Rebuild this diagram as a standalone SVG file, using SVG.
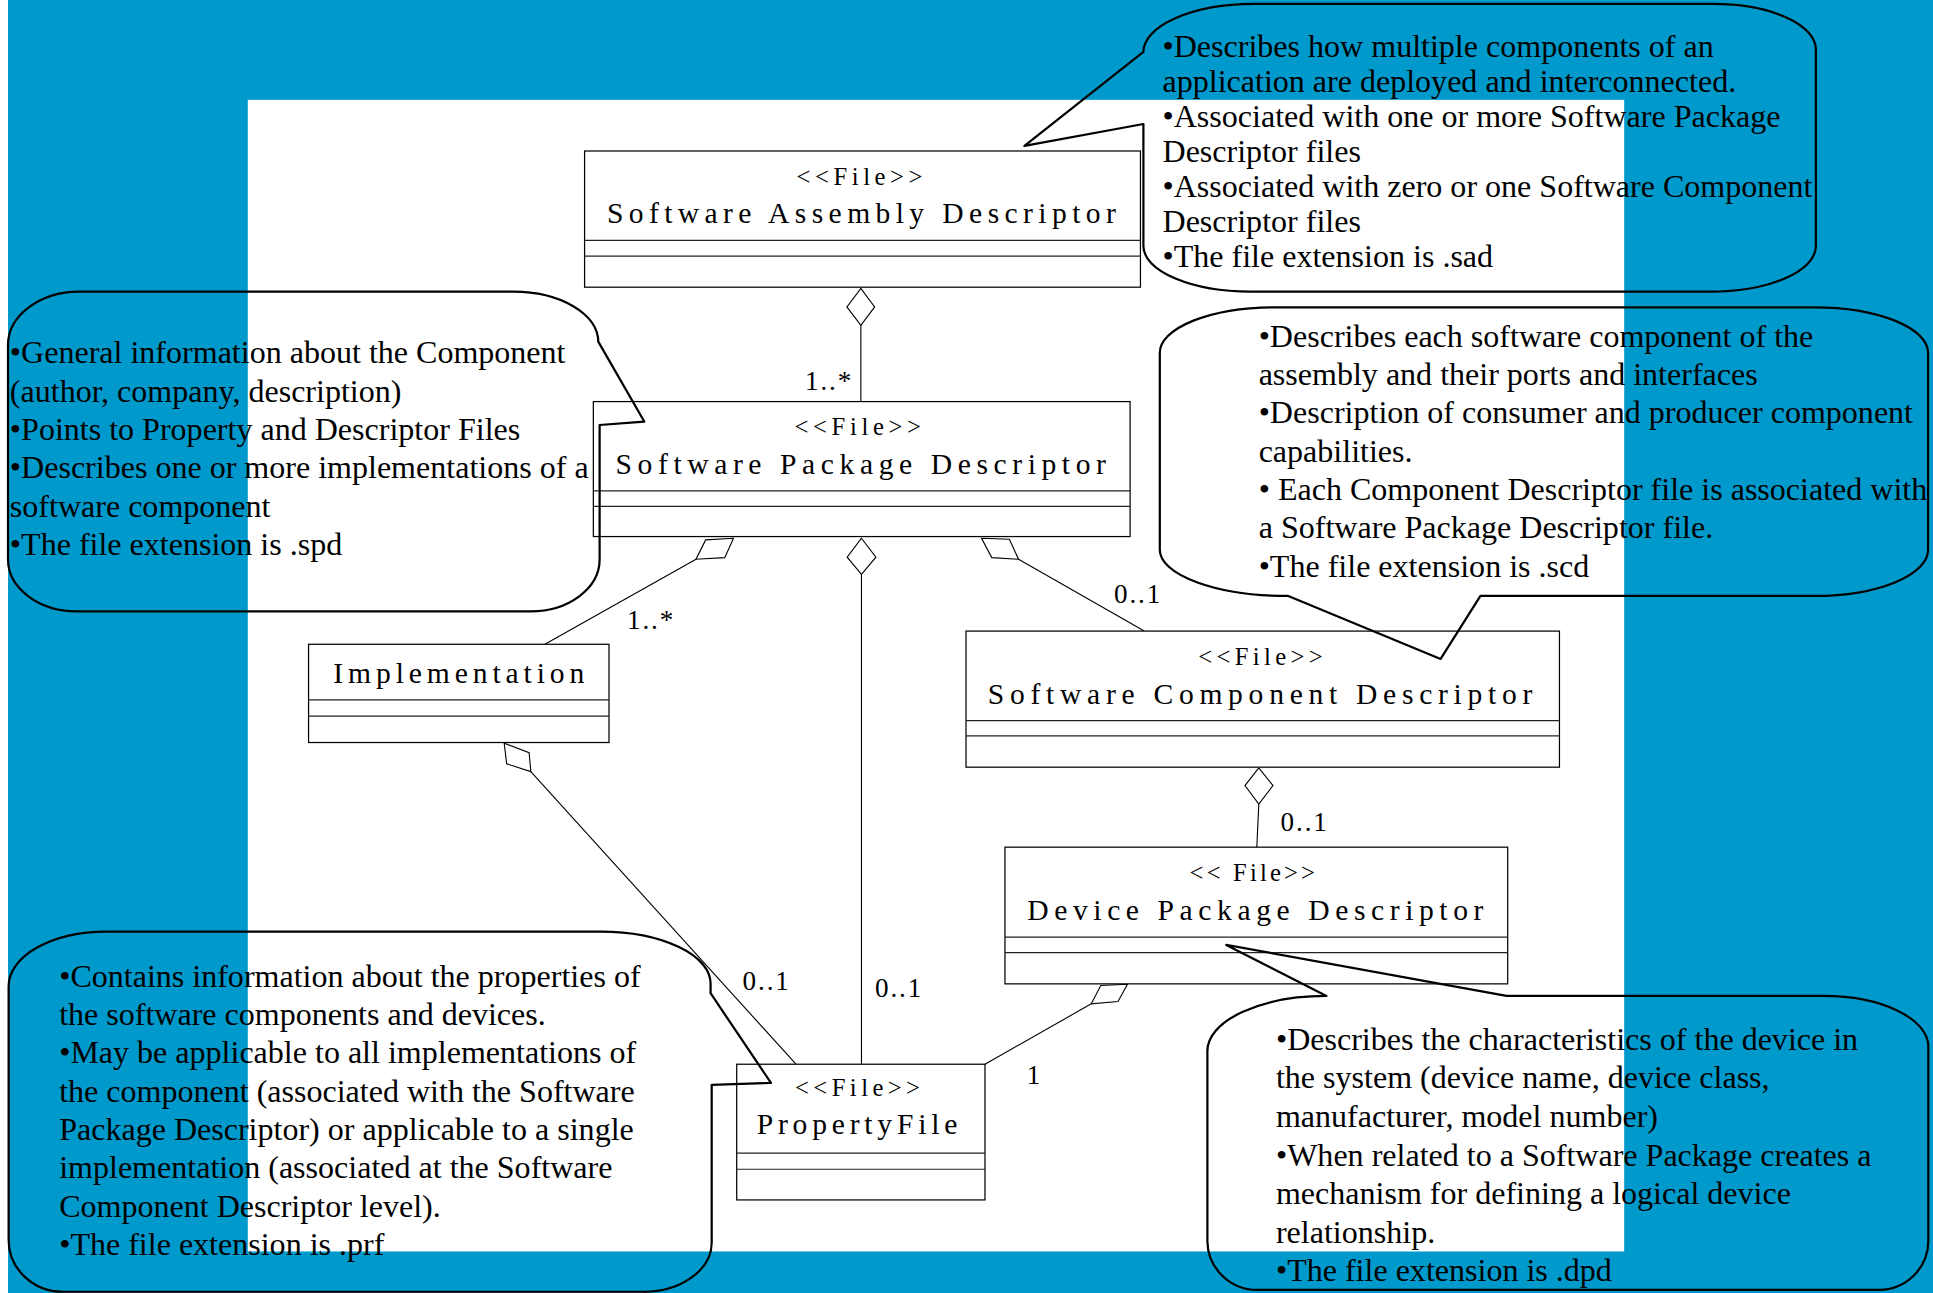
<svg xmlns="http://www.w3.org/2000/svg" width="1933" height="1293" viewBox="0 0 1933 1293">
<defs>
<style>
.box{fill:#fff;stroke:#000;stroke-width:1}
.sep{stroke:#222;stroke-width:1}
.ster{font-family:"Liberation Serif","Times New Roman",serif;font-size:20px;fill:#000}
.name{font-family:"Liberation Serif","Times New Roman",serif;font-size:24px;fill:#000}
.conn{fill:none;stroke:#000;stroke-width:0.9}
.dia{fill:#fff;stroke:#000;stroke-width:0.9}
.mult{font-family:"Liberation Serif","Times New Roman",serif;font-size:22px;fill:#000;letter-spacing:1.5px}
.call{fill:none;stroke:#000;stroke-width:1.8;stroke-linejoin:round}
.note{font-family:"Liberation Serif","Times New Roman",serif;font-size:26px;fill:#000}
</style>
</defs>
<rect x="0" y="0" width="1933" height="1293" fill="#0099cc"/>
<g transform="scale(1.23278 1.2326)">
<rect x="0" y="0" width="6.5" height="1049" fill="#fff"/>
<rect x="201" y="81" width="1116.5" height="934.3" fill="#fff"/>

<g id="connectors">
<polygon class="dia" points="698.3,234 709.5,249 698.3,264 687,249"/>
<line class="conn" x1="698.3" y1="264" x2="698.3" y2="325.8"/>
<text class="mult" x="653" y="316.4">1..*</text>

<polygon class="dia" points="595,436.7 587.9,452.4 564.6,453.7 572.4,438"/>
<line class="conn" x1="564.6" y1="453.7" x2="442" y2="522.7"/>
<text class="mult" x="508.6" y="510.5">1..*</text>

<polygon class="dia" points="698.8,436.7 710.5,452 698.8,466 687.2,452"/>
<line class="conn" x1="698.8" y1="466" x2="698.8" y2="863.4"/>
<text class="mult" x="709.8" y="809">0..1</text>

<polygon class="dia" points="796.2,436.7 818.8,437.5 826.2,453.7 804.5,452.4"/>
<line class="conn" x1="826.2" y1="453.7" x2="928.2" y2="512"/>
<text class="mult" x="903.7" y="489.4">0..1</text>

<polygon class="dia" points="1021.1,623 1032.6,637.3 1021.1,652.4 1009.9,637.3"/>
<line class="conn" x1="1021.1" y1="652.4" x2="1019.5" y2="687.3"/>
<text class="mult" x="1038.8" y="673.8">0..1</text>

<polygon class="dia" points="914.6,798.5 906.9,812.5 885.2,814.4 892.9,799.5"/>
<line class="conn" x1="885.2" y1="814.4" x2="799" y2="863.4"/>
<text class="mult" x="832.8" y="879.4">1</text>

<polygon class="dia" points="409,603 429.2,610.6 430.6,626 411,619.7"/>
<line class="conn" x1="430.6" y1="626" x2="645.7" y2="863.4"/>
<text class="mult" x="602.4" y="803.5">0..1</text>
</g>

<g id="sad">
<rect class="box" x="474.2" y="122.5" width="450.9" height="110.5"/>
<line class="sep" x1="474.2" y1="195" x2="925.1" y2="195"/>
<line class="sep" x1="474.2" y1="207.7" x2="925.1" y2="207.7"/>
<text class="ster" x="646.2" y="150" textLength="102" lengthAdjust="spacing">&lt;&lt;File&gt;&gt;</text>
<text class="name" x="492.3" y="181.2" textLength="412.8" lengthAdjust="spacing">Software Assembly Descriptor</text>
</g>

<g id="spd">
<rect class="box" x="481.3" y="325.8" width="435.4" height="109.5"/>
<line class="sep" x1="481.3" y1="398.3" x2="916.7" y2="398.3"/>
<line class="sep" x1="481.3" y1="410.8" x2="916.7" y2="410.8"/>
<text class="ster" x="644.5" y="352.9" textLength="102.5" lengthAdjust="spacing">&lt;&lt;File&gt;&gt;</text>
<text class="name" x="499.3" y="384.5" textLength="397.8" lengthAdjust="spacing">Software Package Descriptor</text>
</g>

<g id="implementation">
<rect class="box" x="250.3" y="522.7" width="243.7" height="79.7"/>
<line class="sep" x1="250.3" y1="567.8" x2="494" y2="567.8"/>
<line class="sep" x1="250.3" y1="581" x2="494" y2="581"/>
<text class="name" x="270.4" y="554.3" textLength="203.6" lengthAdjust="spacing">Implementation</text>
</g>

<g id="scd">
<rect class="box" x="783.6" y="512" width="481.4" height="110.4"/>
<line class="sep" x1="783.6" y1="584.6" x2="1265" y2="584.6"/>
<line class="sep" x1="783.6" y1="597" x2="1265" y2="597"/>
<text class="ster" x="972" y="539.3" textLength="101" lengthAdjust="spacing">&lt;&lt;File&gt;&gt;</text>
<text class="name" x="801.3" y="570.8" textLength="441.7" lengthAdjust="spacing">Software Component Descriptor</text>
</g>

<g id="dpd">
<rect class="box" x="815.2" y="687.3" width="407.8" height="110.9"/>
<line class="sep" x1="815.2" y1="760.3" x2="1223" y2="760.3"/>
<line class="sep" x1="815.2" y1="772.8" x2="1223" y2="772.8"/>
<text class="ster" x="965" y="714.5" textLength="101.7" lengthAdjust="spacing">&lt;&lt; File&gt;&gt;</text>
<text class="name" x="833.3" y="746" textLength="370" lengthAdjust="spacing">Device Package Descriptor</text>
</g>

<g id="propertyfile">
<rect class="box" x="597.6" y="863.4" width="201.4" height="110.1"/>
<line class="sep" x1="597.6" y1="935.6" x2="799" y2="935.6"/>
<line class="sep" x1="597.6" y1="948.6" x2="799" y2="948.6"/>
<text class="ster" x="644.9" y="889.1" textLength="101.4" lengthAdjust="spacing">&lt;&lt;File&gt;&gt;</text>
<text class="name" x="613.8" y="920.2" textLength="162.8" lengthAdjust="spacing">PropertyFile</text>
</g>

<g id="note-sad">
<path class="call" d="M 1017,3.2 H 1390 A 83,37 0 0 1 1473,40 V 200 A 85,37 0 0 1 1388,236.6 H 1015 A 87,37 0 0 1 927.5,200 V 100.6 L 831,118.4 L 927.5,42 A 90,39 0 0 1 1017,3.2 Z"/>
<text class="note" x="943" y="46">•Describes how multiple components of an</text>
<text class="note" x="943" y="74.4">application are deployed and interconnected.</text>
<text class="note" x="943" y="102.8">•Associated with one or more Software Package</text>
<text class="note" x="943" y="131.2">Descriptor files</text>
<text class="note" x="943" y="159.6">•Associated with zero or one Software Component</text>
<text class="note" x="943" y="188">Descriptor files</text>
<text class="note" x="943" y="216.4">•The file extension is .sad</text>
</g>

<g id="note-spd">
<path class="call" d="M 64,236.6 H 416 A 69,40.6 0 0 1 485.3,277.2 L 522.6,342 L 486.4,344.8 V 454 A 56,42 0 0 1 430,496 H 62 A 56,42 0 0 1 6.5,454 V 280 A 58,43.4 0 0 1 64,236.6 Z"/>
<text class="note" x="8" y="294.7">•General information about the Component</text>
<text class="note" x="8" y="325.8">(author, company, description)</text>
<text class="note" x="8" y="356.9">•Points to Property and Descriptor Files</text>
<text class="note" x="8" y="388">•Describes one or more implementations of a</text>
<text class="note" x="8" y="419.1">software component</text>
<text class="note" x="8" y="450.2">•The file extension is .spd</text>
</g>

<g id="note-scd">
<path class="call" d="M 1034,249.3 H 1472 A 92,37 0 0 1 1564,286.3 V 446 A 92,37.5 0 0 1 1472,483.5 H 1200.9 L 1168.6,534.6 L 1045,483.5 A 104,37.5 0 0 1 940.8,446 V 286.3 A 93,37 0 0 1 1034,249.3 Z"/>
<text class="note" x="1021" y="281.2">•Describes each software component of the</text>
<text class="note" x="1021" y="312.3">assembly and their ports and interfaces</text>
<text class="note" x="1021" y="343.4">•Description of consumer and producer component</text>
<text class="note" x="1021" y="374.5">capabilities.</text>
<text class="note" x="1021" y="405.6">• Each Component Descriptor file is associated with</text>
<text class="note" x="1021" y="436.7">a Software Package Descriptor file.</text>
<text class="note" x="1021" y="467.8">•The file extension is .scd</text>
</g>

<g id="note-prf">
<path class="call" d="M 86,755.8 H 487 A 89,42 0 0 1 576.4,798 V 805.8 L 625.4,878.6 L 577.3,880.1 V 1008 A 55,40 0 0 1 522,1048 H 51 A 44,42 0 0 1 7,1006 V 800 A 79,44.2 0 0 1 86,755.8 Z"/>
<text class="note" x="48" y="800.4">•Contains information about the properties of</text>
<text class="note" x="48" y="831.5">the software components and devices.</text>
<text class="note" x="48" y="862.6">•May be applicable to all implementations of</text>
<text class="note" x="48" y="893.7">the component (associated with the Software</text>
<text class="note" x="48" y="924.8">Package Descriptor) or applicable to a single</text>
<text class="note" x="48" y="955.9">implementation (associated at the Software</text>
<text class="note" x="48" y="987">Component Descriptor level).</text>
<text class="note" x="48" y="1018.1">•The file extension is .prf</text>
</g>

<g id="note-dpd">
<path class="call" d="M 1076,808 L 994.7,766.6 L 1222,808 H 1479 A 85,41 0 0 1 1564.2,849 V 1007 A 40,40 0 0 1 1524,1046.5 H 1020 A 40.6,40 0 0 1 979.4,1007 V 852.6 A 96.6,44.6 0 0 1 1076,808 Z"/>
<text class="note" x="1035" y="851.8">•Describes the characteristics of the device in</text>
<text class="note" x="1035" y="883.1">the system (device name, device class,</text>
<text class="note" x="1035" y="914.4">manufacturer, model number)</text>
<text class="note" x="1035" y="945.7">•When related to a Software Package creates a</text>
<text class="note" x="1035" y="977">mechanism for defining a logical device</text>
<text class="note" x="1035" y="1008.3">relationship.</text>
<text class="note" x="1035" y="1039.6">•The file extension is .dpd</text>
</g>
</g>
</svg>
